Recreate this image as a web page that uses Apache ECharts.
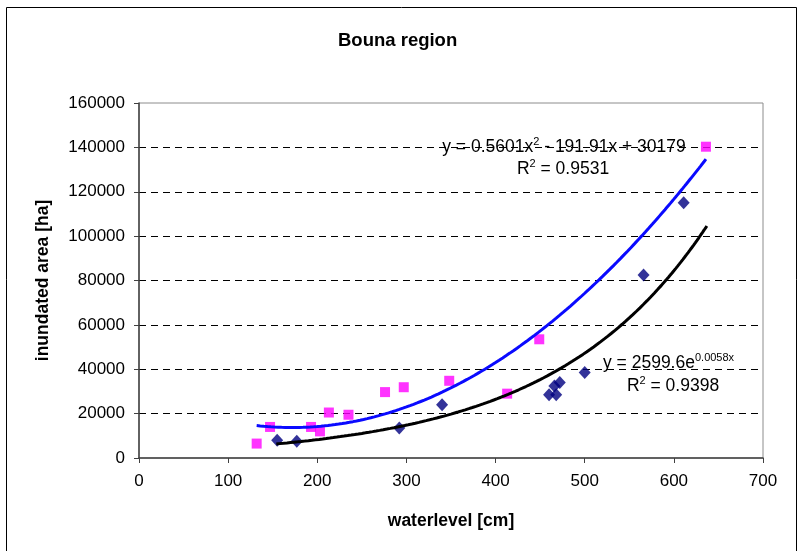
<!DOCTYPE html>
<html>
<head>
<meta charset="utf-8">
<script src="https://cdn.jsdelivr.net/npm/echarts@6/dist/echarts.min.js"></script>
<style>
  html, body { margin: 0; padding: 0; background: #fff; }
  #chart { width: 803px; height: 551px; }
</style>
</head>
<body>
<div id="chart"></div>
<script>
// Gauge readings: water level [cm] against inundated area [ha]
const levelsDiamond = [155, 177, 292, 340, 460, 466, 468, 472, 500, 566, 611];
const areaDiamond   = [8000, 7500, 13500, 24000, 28500, 32500, 28500, 34000, 38500, 82500, 115000];

const levelsSquare = [132, 147, 193, 203, 213, 235, 276, 297, 348, 413, 449, 636];
const areaSquare   = [6500, 14000, 14000, 12000, 20500, 19500, 29700, 31900, 34800, 29000, 53500, 140300];

// Fitted trend curves (coefficients as printed on the chart)
const polyCoef = [0.5601, -191.91, 30179];   // a*x^2 + b*x + c
const polyRange = [132, 636];
const expCoef = [2599.6, 0.0058];            // A * e^(k*x)
const expRange = [154, 637];

const xAxisRange = [0, 700, 100];
const yAxisRange = [0, 160000, 20000];

function curve(range, fn) {
  const pts = [];
  for (let x = range[0]; x <= range[1]; x += 2) pts.push([x, fn(x)]);
  if (pts[pts.length - 1][0] !== range[1]) pts.push([range[1], fn(range[1])]);
  return pts;
}
const polyLine = curve(polyRange, x => polyCoef[0] * x * x + polyCoef[1] * x + polyCoef[2]);
const expLine = curve(expRange, x => expCoef[0] * Math.exp(expCoef[1] * x));

const FONT = '"Liberation Sans", Arial, sans-serif';

// rich-text styles for equation labels with superscripts
const eqRich = {
  t: { fontFamily: FONT, fontSize: 17.5, color: '#000', lineHeight: 20, verticalAlign: 'bottom' },
  s: { fontFamily: FONT, fontSize: 11, color: '#000', lineHeight: 20, verticalAlign: 'top' }
};

const chart = echarts.init(document.getElementById('chart'), null, { renderer: 'canvas' });

chart.setOption({
  backgroundColor: '#ffffff',
  animation: false,
  title: {
    text: 'Bouna region',
    left: 333,
    top: 26,
    textStyle: { fontFamily: FONT, fontSize: 18.5, fontWeight: 'bold', color: '#000' }
  },
  grid: {
    left: 139, right: 40, top: 103, bottom: 93,
    show: true, borderColor: '#8c8c8c', borderWidth: 1, backgroundColor: 'transparent'
  },
  xAxis: {
    type: 'value',
    min: xAxisRange[0], max: xAxisRange[1], interval: xAxisRange[2],
    name: 'waterlevel [cm]',
    nameLocation: 'middle',
    nameGap: 54,
    nameTextStyle: { fontFamily: FONT, fontSize: 17.5, fontWeight: 'bold', color: '#000' },
    axisLine: { show: true, lineStyle: { color: '#404040', width: 1.5 } },
    axisTick: { show: true, inside: false, length: 5, lineStyle: { color: '#404040' } },
    axisLabel: { fontFamily: FONT, fontSize: 17, color: '#000', margin: 15 },
    splitLine: { show: false }
  },
  yAxis: {
    type: 'value',
    min: yAxisRange[0], max: yAxisRange[1], interval: yAxisRange[2],
    name: 'inundated area [ha]',
    nameLocation: 'middle',
    nameGap: 87,
    nameRotate: 90,
    nameTextStyle: { fontFamily: FONT, fontSize: 17.5, fontWeight: 'bold', color: '#000' },
    axisLine: { show: true, lineStyle: { color: '#404040', width: 1.5 } },
    axisTick: { show: true, inside: false, length: 5, lineStyle: { color: '#404040' } },
    axisLabel: { fontFamily: FONT, fontSize: 17, color: '#000', margin: 14, formatter: v => String(v) },
    splitLine: {
      show: true, showMinLine: false, showMaxLine: false,
      lineStyle: { color: '#000', width: 1, type: [7, 5] }
    }
  },
  series: [
    {
      name: 'diamond', type: 'scatter', z: 2,
      symbol: 'diamond', symbolSize: [12, 13],
      itemStyle: { color: '#000080' },
      data: levelsDiamond.map((x, i) => [x, areaDiamond[i]])
    },
    {
      name: 'square', type: 'scatter', z: 2,
      symbol: 'rect', symbolSize: 10,
      itemStyle: { color: '#ff00ff' },
      data: levelsSquare.map((x, i) => [x, areaSquare[i]])
    },
    {
      name: 'poly fit', type: 'line', z: 3,
      showSymbol: false, symbol: 'none', smooth: false,
      lineStyle: { color: '#0a0aff', width: 3 },
      data: polyLine
    },
    {
      name: 'exp fit', type: 'line', z: 3,
      showSymbol: false, symbol: 'none', smooth: false,
      lineStyle: { color: '#000', width: 3 },
      data: expLine
    }
  ],
  graphic: [
    {
      type: 'rect', silent: true, z: 0,
      shape: { x: 6.5, y: 7.5, width: 790, height: 570 },
      style: { fill: 'none', stroke: '#000', lineWidth: 1 }
    },
    {
      type: 'text', z: 10, x: 564, y: 146,
      style: {
        text: '{t|y = 0.5601x}{s|2}{t| - 191.91x + 30179}',
        align: 'center', verticalAlign: 'middle', rich: eqRich
      }
    },
    {
      type: 'text', z: 10, x: 563, y: 168,
      style: {
        text: '{t|R}{s|2}{t| = 0.9531}',
        align: 'center', verticalAlign: 'middle', rich: eqRich
      }
    },
    {
      type: 'text', z: 10, x: 603, y: 362,
      style: {
        text: '{t|y = 2599.6e}{s|0.0058x}',
        align: 'left', verticalAlign: 'middle', rich: eqRich
      }
    },
    {
      type: 'text', z: 10, x: 673, y: 385,
      style: {
        text: '{t|R}{s|2}{t| = 0.9398}',
        align: 'center', verticalAlign: 'middle', rich: eqRich
      }
    }
  ]
});
</script>
</body>
</html>
